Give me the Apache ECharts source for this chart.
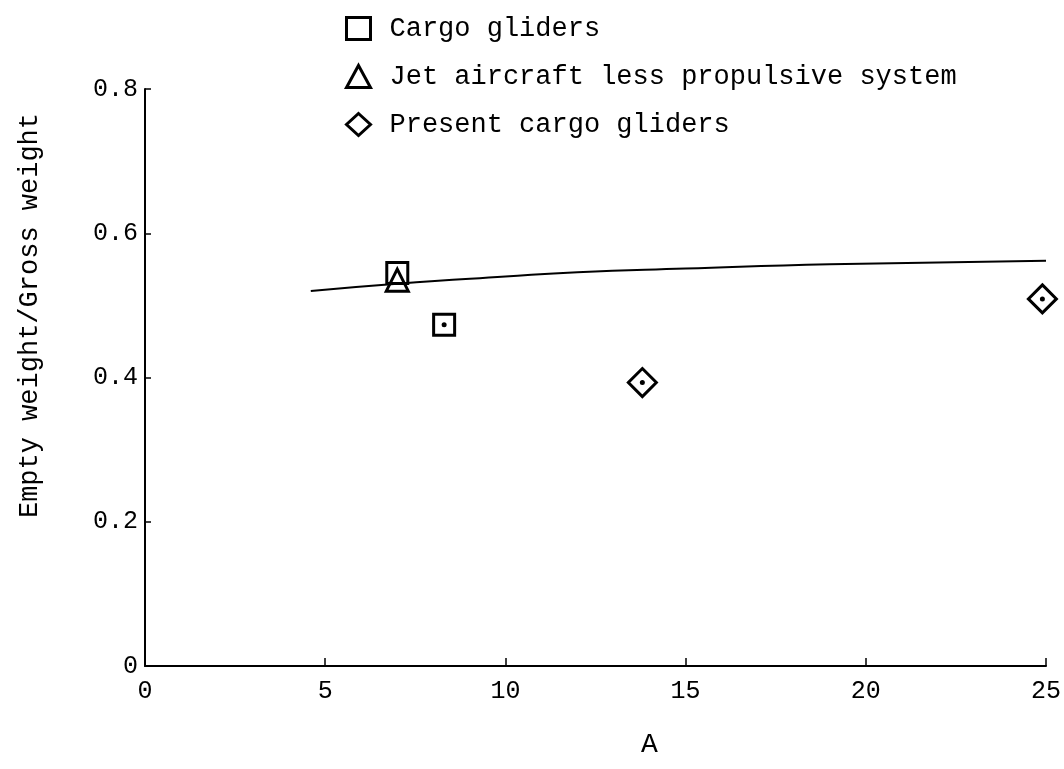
<!DOCTYPE html>
<html>
<head>
<meta charset="utf-8">
<script src="https://cdn.jsdelivr.net/npm/echarts@6/dist/echarts.min.js"></script>
<style>html,body{margin:0;padding:0;background:#fff}#c{width:1064px;height:769px}</style>
</head>
<body>
<div id="c"></div>
<script>
// Data
const cargoGliders = [[7.0, 0.545], [8.3, 0.473]];
const jetAircraft = [[7.0, 0.535]];
const presentGliders = [[13.8, 0.393], [24.9, 0.509]];
const curve = [[4.6, 0.520], [7, 0.530], [10, 0.540], [12, 0.546], [15, 0.551], [19, 0.557], [25, 0.562]];
const xTicks = [0, 5, 10, 15, 20, 25];
const yTicks = [0, 0.2, 0.4, 0.6, 0.8];
const legendNames = ['Cargo gliders', 'Jet aircraft less propulsive system', 'Present cargo gliders'];

const FONT = '"Liberation Mono", "DejaVu Sans Mono", monospace';
const chart = echarts.init(document.getElementById('c'));
const markerStyle = { color: '#fff', borderColor: '#000', borderWidth: 3, opacity: 1 };
const dotSeries = (data) => ({
  type: 'scatter', data: data, symbol: 'circle', symbolSize: 5,
  itemStyle: { color: '#000', opacity: 1 }, silent: true, z: 5
});
chart.setOption({
  animation: false,
  backgroundColor: '#fff',
  textStyle: { fontFamily: FONT, color: '#000' },
  grid: { left: 145, right: 14, top: 89, bottom: 103 },
  legend: {
    data: legendNames,
    orient: 'vertical', left: 340, top: 10,
    itemWidth: 24, itemHeight: 22, itemGap: 21,
    itemStyle: { borderWidth: 3, borderColor: '#000', color: '#fff' },
    textStyle: { fontFamily: FONT, fontSize: 27, color: '#000', padding: [0, 0, 0, 14] }
  },
  xAxis: {
    type: 'value', min: xTicks[0], max: xTicks[xTicks.length - 1], interval: 5,
    axisLine: { lineStyle: { color: '#000', width: 2 } },
    axisTick: { inside: true, length: 8, lineStyle: { color: '#000', width: 1.5 } },
    axisLabel: { fontFamily: FONT, fontSize: 25, color: '#000', margin: 13 },
    splitLine: { show: false }
  },
  yAxis: {
    type: 'value', min: yTicks[0], max: yTicks[yTicks.length - 1], interval: 0.2,
    axisLine: { show: true, lineStyle: { color: '#000', width: 2 } },
    axisTick: { show: true, inside: true, length: 6, lineStyle: { color: '#000', width: 1.5 } },
    axisLabel: { fontFamily: FONT, fontSize: 25, color: '#000', margin: 7,
      formatter: v => v === 0 ? '0' : v.toFixed(1) },
    splitLine: { show: false }
  },
  graphic: [
    { type: 'text', left: 16, top: 113, rotation: Math.PI / 2, originX: 0, originY: 0,
      style: { text: 'Empty weight/Gross weight', font: '27px ' + FONT, fill: '#000' } },
    { type: 'text', left: 641, top: 731,
      style: { text: 'A', font: '28px ' + FONT, fill: '#000' } }
  ],
  series: [
    { name: 'curve', type: 'line', data: curve, smooth: true, showSymbol: false,
      lineStyle: { color: '#000', width: 2 }, z: 1 },
    { name: legendNames[0], type: 'scatter', data: cargoGliders, symbol: 'rect', symbolSize: 21,
      itemStyle: markerStyle, z: 3 },
    { name: legendNames[1], type: 'scatter', data: jetAircraft, symbol: 'triangle', symbolSize: [22, 22],
      itemStyle: Object.assign({}, markerStyle, { color: 'rgba(255,255,255,0)' }), z: 4 },
    { name: legendNames[2], type: 'scatter', data: presentGliders, symbol: 'diamond', symbolSize: 28,
      itemStyle: markerStyle, z: 3 },
    dotSeries(cargoGliders.slice(1)),
    dotSeries(presentGliders)
  ]
});
</script>
</body>
</html>
